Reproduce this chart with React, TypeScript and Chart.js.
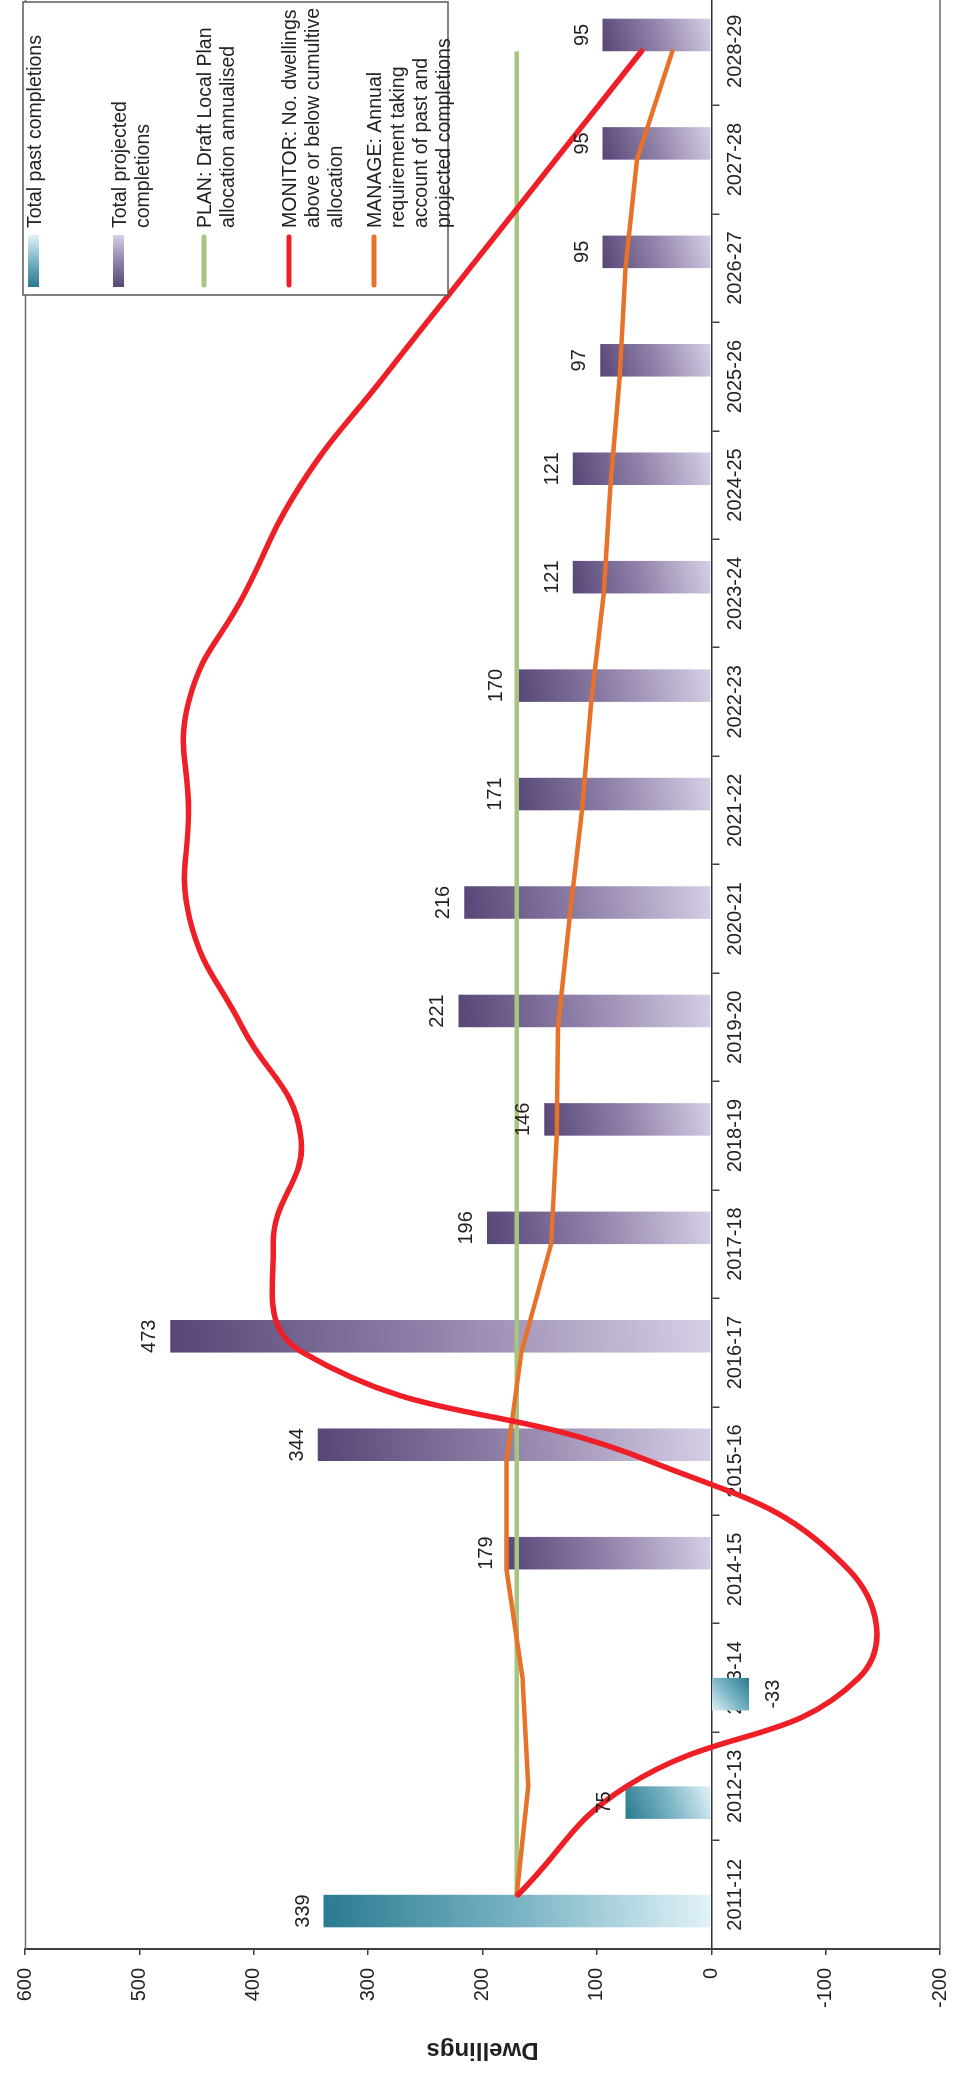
import React, { useEffect, useRef } from 'react';
import { Chart, registerables } from 'chart.js';

Chart.register(...registerables);

// ---------------- data ----------------
const categories = [
  '2011-12', '2012-13', '2013-14', '2014-15', '2015-16', '2016-17',
  '2017-18', '2018-19', '2019-20', '2020-21', '2021-22', '2022-23',
  '2023-24', '2024-25', '2025-26', '2026-27', '2027-28', '2028-29',
];

const pastCompletions: (number | null)[] = [
  339, 75, -33, null, null, null, null, null, null,
  null, null, null, null, null, null, null, null, null,
];

const projectedCompletions: (number | null)[] = [
  null, null, null, 179, 344, 473, 196, 146, 221,
  216, 171, 170, 121, 121, 97, 95, 95, 95,
];

const planAllocation = [
  170, 170, 170, 170, 170, 170, 170, 170, 170,
  170, 170, 170, 170, 170, 170, 170, 170, 170,
];

const monitorValues = [
  169, 74, -129, -120, 54, 357, 383, 359, 410,
  456, 457, 457, 408, 359, 286, 211, 136, 61,
];

const manageValues = [
  170, 160, 165, 179, 179, 166, 140, 135, 134,
  124, 113, 105, 94, 88, 80, 75, 65, 34,
];

const valueAxisMin = -200;
const valueAxisMax = 600;
const valueAxisStep = 100;

const seriesNames = [
  'Total past completions',
  'Total projected completions',
  'PLAN: Draft Local Plan allocation annualised',
  'MONITOR: No. dwellings above or below cumultive allocation',
  'MANAGE: Annual requirement taking account of past and projected completions',
];

const legendLines = [
  ['Total past completions'],
  ['Total projected', 'completions'],
  ['PLAN: Draft Local Plan', 'allocation annualised'],
  ['MONITOR: No. dwellings', 'above or below cumultive', 'allocation'],
  ['MANAGE: Annual', 'requirement taking', 'account of past and', 'projected completions'],
];

// ---------------- styling ----------------
const FONT_FAMILY = '"Liberation Sans", Arial, Helvetica, sans-serif';
const TEXT_COLOR = '#231f20';
const W = 2088; // landscape canvas width (rotated on page)
const H = 965;

const PAST_GRAD = ['#2a7a90', '#79b3c4', '#e2f3f8'];
const PROJ_GRAD = ['#574676', '#9283ab', '#d8cfe6'];
const GREEN = '#a6c57e';
const RED = '#ee1f26';
const ORANGE = '#e8722a';

function makeBarGradient(context: any, stops: string[]) {
  const chart = context.chart;
  const area = chart.chartArea;
  if (!area || context.type !== 'data') return stops[1];
  const xs = chart.scales.x;
  const ys = chart.scales.y;
  const v = context.raw;
  if (v === null || v === undefined) return stops[1];
  const band = (xs.right - xs.left) / categories.length;
  const bw = band * 0.3;
  const xc = xs.getPixelForValue(context.dataIndex);
  const x0 = context.datasetIndex === 0 ? xc - bw : xc;
  const x1 = x0 + bw;
  const yEnd = ys.getPixelForValue(v);
  const yBase = ys.getPixelForValue(0);
  const g = chart.ctx.createLinearGradient(x0, Math.min(yEnd, yBase), x1, Math.max(yEnd, yBase));
  if (v >= 0) {
    g.addColorStop(0, stops[0]);
    g.addColorStop(0.5, stops[1]);
    g.addColorStop(1, stops[2]);
  } else {
    g.addColorStop(0, stops[2]);
    g.addColorStop(0.5, stops[1]);
    g.addColorStop(1, stops[0]);
  }
  return g;
}

const frameAndLabelsPlugin = {
  id: 'frameAndLabels',
  beforeDatasetsDraw(chart: any) {
    const { ctx, chartArea } = chart;
    ctx.save();
    ctx.strokeStyle = '#6b6b6b';
    ctx.lineWidth = 1.5;
    ctx.beginPath();
    ctx.moveTo(chartArea.left, chartArea.top + 0.5);
    ctx.lineTo(chartArea.right, chartArea.top + 0.5);
    ctx.moveTo(chartArea.left, chartArea.bottom);
    ctx.lineTo(chartArea.right, chartArea.bottom);
    ctx.stroke();
    ctx.restore();
  },
  afterDatasetsDraw(chart: any) {
    const { ctx } = chart;
    ctx.save();
    ctx.font = `20px ${FONT_FAMILY}`;
    ctx.fillStyle = TEXT_COLOR;
    ctx.textAlign = 'center';
    ctx.textBaseline = 'alphabetic';
    [0, 1].forEach((di) => {
      const meta = chart.getDatasetMeta(di);
      const data = chart.data.datasets[di].data;
      meta.data.forEach((el: any, i: number) => {
        const v = data[i];
        if (v === null || v === undefined) return;
        const label = String(v);
        if (v >= 0) {
          ctx.fillText(label, el.x, el.y - 15);
        } else {
          ctx.fillText(label, el.x, el.y + 30);
        }
      });
    });
    ctx.restore();
  },
};

const legendPlugin = {
  id: 'customLegend',
  afterDraw(chart: any) {
    const ctx = chart.ctx;
    ctx.save();
    const bx = 1790, by = 23, bw = 293, bh = 425;
    ctx.fillStyle = '#ffffff';
    ctx.fillRect(bx, by, bw, bh);
    ctx.strokeStyle = '#5a5a5a';
    ctx.lineWidth = 1.5;
    ctx.strokeRect(bx, by, bw, bh);

    const rowY = [33.5, 118.5, 204, 289, 374];
    const symX0 = 1798, symX1 = 1850, textX = 1857;
    const kinds = ['past', 'proj', GREEN, RED, ORANGE];
    ctx.font = `19.5px ${FONT_FAMILY}`;
    kinds.forEach((k, i) => {
      const cy = rowY[i];
      if (k === 'past' || k === 'proj') {
        const stops = k === 'past' ? PAST_GRAD : PROJ_GRAD;
        const g = ctx.createLinearGradient(symX0, cy, symX1, cy);
        g.addColorStop(0, stops[0]);
        g.addColorStop(0.5, stops[1]);
        g.addColorStop(1, stops[2]);
        ctx.fillStyle = g;
        ctx.fillRect(symX0, cy - 5.5, symX1 - symX0, 11);
      } else {
        ctx.strokeStyle = k;
        ctx.lineWidth = 5;
        ctx.lineCap = 'round';
        ctx.beginPath();
        ctx.moveTo(symX0 + 2, cy);
        ctx.lineTo(symX1 - 2, cy);
        ctx.stroke();
      }
      ctx.fillStyle = TEXT_COLOR;
      ctx.textAlign = 'left';
      ctx.textBaseline = 'alphabetic';
      legendLines[i].forEach((line, li) => {
        ctx.fillText(line, textX, cy + 7 + li * 23);
      });
    });
    ctx.restore();
  },
};

export default function App() {
  const ref = useRef<HTMLCanvasElement>(null);

  useEffect(() => {
    const canvas = ref.current;
    if (!canvas) return;
    const chart = new Chart(canvas, {
      type: 'bar',
      data: {
        labels: categories,
        datasets: [
          {
            type: 'bar',
            label: seriesNames[0],
            data: pastCompletions,
            backgroundColor: (c: any) => makeBarGradient(c, PAST_GRAD),
            borderWidth: 0,
            categoryPercentage: 0.6,
            barPercentage: 1.0,
            order: 3,
          },
          {
            type: 'bar',
            label: seriesNames[1],
            data: projectedCompletions,
            backgroundColor: (c: any) => makeBarGradient(c, PROJ_GRAD),
            borderWidth: 0,
            categoryPercentage: 0.6,
            barPercentage: 1.0,
            order: 3,
          },
          {
            type: 'line',
            label: seriesNames[2],
            data: planAllocation,
            borderColor: GREEN,
            borderWidth: 4.5,
            pointRadius: 0,
            tension: 0,
            fill: false,
            order: 2,
          },
          {
            type: 'line',
            label: seriesNames[4],
            data: manageValues,
            borderColor: ORANGE,
            borderWidth: 4.5,
            pointRadius: 0,
            tension: 0,
            fill: false,
            borderJoinStyle: 'round',
            borderCapStyle: 'round',
            order: 1,
          },
          {
            type: 'line',
            label: seriesNames[3],
            data: monitorValues,
            borderColor: RED,
            borderWidth: 5.5,
            pointRadius: 0,
            tension: 0.45,
            fill: false,
            borderCapStyle: 'round',
            order: 0,
          },
        ] as any,
      },
      options: {
        responsive: false,
        devicePixelRatio: 1,
        animation: false,
        layout: { padding: { top: 18, right: 0, bottom: 10, left: 0 } },
        plugins: {
          legend: { display: false },
          tooltip: { enabled: false },
          title: { display: false },
        },
        scales: {
          x: {
            type: 'category',
            position: { y: 0 } as any,
            offset: true,
            grid: {
              offset: true,
              drawOnChartArea: false,
              drawTicks: true,
              tickLength: 7,
              color: '#404040',
              lineWidth: 1.5,
            },
            border: { display: true, color: '#333333', width: 1.5 },
            ticks: {
              autoSkip: false,
              maxRotation: 0,
              minRotation: 0,
              padding: 5,
              color: TEXT_COLOR,
              font: { family: FONT_FAMILY, size: 20 },
            },
          },
          y: {
            type: 'linear',
            position: 'left',
            min: valueAxisMin,
            max: valueAxisMax,
            afterFit: (scale: any) => {
              scale.width = 136;
            },
            grid: {
              drawOnChartArea: false,
              drawTicks: true,
              tickLength: 6,
              color: '#404040',
              lineWidth: 1.5,
            },
            border: { display: true, color: '#404040', width: 2 },
            ticks: {
              stepSize: valueAxisStep,
              padding: 13,
              color: TEXT_COLOR,
              font: { family: FONT_FAMILY, size: 20 },
            },
            title: {
              display: true,
              text: 'Dwellings',
              color: TEXT_COLOR,
              font: { family: FONT_FAMILY, size: 24, weight: 'bold' },
              padding: { top: 21, bottom: 0 },
            },
          },
        },
      } as any,
      plugins: [frameAndLabelsPlugin, legendPlugin],
    });
    return () => chart.destroy();
  }, []);

  return (
    <div
      style={{
        position: 'fixed',
        left: 0,
        top: 0,
        width: 965,
        height: 2085,
        overflow: 'hidden',
        background: '#ffffff',
      }}
    >
      <div
        style={{
          position: 'absolute',
          left: 0,
          top: 0,
          width: W,
          height: H,
          transformOrigin: '0 0',
          transform: 'translate(0px, 2085px) rotate(-90deg)',
        }}
      >
        <canvas ref={ref} width={W} height={H} style={{ width: W, height: H, display: 'block' }} />
      </div>
    </div>
  );
}
